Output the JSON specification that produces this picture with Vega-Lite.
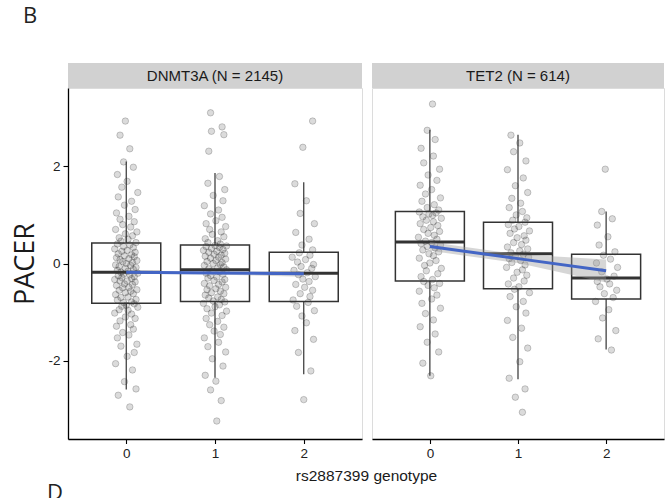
{
  "$schema": "https://vega.github.io/schema/vega-lite/v6.json",
  "background": "white",
  "padding": {"left": 11, "top": 5, "right": 5, "bottom": 0},
  "title": {"text": "B", "anchor": "start", "frame": "group", "font": "Open Sans", "fontSize": 22, "fontWeight": "normal", "color": "#222222", "baseline": "alphabetic", "dx": -45, "offset": 18},
  "columns": 2,
  "spacing": {"row": 0, "column": 10},
  "bounds": "flush",
  "datasets": {
    "dnmt3a": [
      {"x":0.04,"y":-2.95},{"x":-0.09,"y":-2.71},{"x":0.11,"y":-2.58},{"x":-0.02,"y":-2.43},{"x":0.07,"y":-2.19},{"x":-0.12,"y":-2.06},{"x":0.01,"y":-1.91},{"x":0.09,"y":-1.83},{"x":-0.06,"y":-1.70},{"x":0.12,"y":-1.66},
      {"x":-0.10,"y":-1.53},{"x":0.03,"y":-1.47},{"x":-0.04,"y":-1.42},{"x":0.08,"y":-1.35},{"x":-0.11,"y":-1.29},{"x":0.05,"y":-1.26},{"x":-0.07,"y":-1.18},{"x":0.10,"y":-1.13},{"x":-0.01,"y":-1.10},{"x":0.06,"y":-1.04},
      {"x":-0.13,"y":-1.02},{"x":0.02,"y":-0.96},{"x":-0.08,"y":-0.95},{"x":0.13,"y":-0.90},{"x":-0.05,"y":-0.88},{"x":0.00,"y":-0.86},{"x":0.09,"y":-0.83},{"x":-0.03,"y":-0.80},{"x":0.06,"y":-0.79},{"x":-0.10,"y":-0.75},
      {"x":0.11,"y":-0.74},{"x":-0.06,"y":-0.70},{"x":0.02,"y":-0.69},{"x":-0.12,"y":-0.64},{"x":0.08,"y":-0.62},{"x":-0.01,"y":-0.60},{"x":0.05,"y":-0.57},{"x":-0.08,"y":-0.55},{"x":0.12,"y":-0.54},{"x":-0.04,"y":-0.50},
      {"x":0.03,"y":-0.49},{"x":-0.11,"y":-0.45},{"x":0.07,"y":-0.43},{"x":-0.02,"y":-0.42},{"x":0.10,"y":-0.38},{"x":-0.07,"y":-0.36},{"x":0.01,"y":-0.36},{"x":-0.13,"y":-0.33},{"x":0.06,"y":-0.31},{"x":-0.05,"y":-0.29},
      {"x":0.09,"y":-0.27},{"x":-0.09,"y":-0.25},{"x":0.04,"y":-0.23},{"x":-0.03,"y":-0.22},{"x":0.13,"y":-0.20},{"x":-0.06,"y":-0.18},{"x":0.02,"y":-0.16},{"x":-0.10,"y":-0.14},{"x":0.08,"y":-0.12},{"x":-0.01,"y":-0.10},
      {"x":0.11,"y":-0.08},{"x":-0.08,"y":-0.06},{"x":0.05,"y":-0.04},{"x":-0.12,"y":-0.03},{"x":0.00,"y":0.00},{"x":0.07,"y":0.02},{"x":-0.04,"y":0.04},{"x":0.12,"y":0.06},{"x":-0.07,"y":0.08},{"x":0.03,"y":0.10},
      {"x":-0.11,"y":0.12},{"x":0.09,"y":0.14},{"x":-0.02,"y":0.16},{"x":0.06,"y":0.18},{"x":-0.09,"y":0.20},{"x":0.10,"y":0.23},{"x":-0.05,"y":0.25},{"x":0.01,"y":0.27},{"x":-0.13,"y":0.30},{"x":0.08,"y":0.33},
      {"x":-0.03,"y":0.35},{"x":0.04,"y":0.38},{"x":-0.10,"y":0.40},{"x":0.11,"y":0.43},{"x":-0.06,"y":0.46},{"x":0.02,"y":0.50},{"x":-0.08,"y":0.53},{"x":0.07,"y":0.57},{"x":-0.01,"y":0.61},{"x":0.12,"y":0.65},
      {"x":-0.12,"y":0.70},{"x":0.05,"y":0.75},{"x":-0.04,"y":0.80},{"x":0.09,"y":0.86},{"x":-0.07,"y":0.91},{"x":0.03,"y":0.97},{"x":-0.11,"y":1.04},{"x":0.10,"y":1.11},{"x":-0.02,"y":1.20},{"x":0.06,"y":1.28},
      {"x":-0.09,"y":1.37},{"x":0.13,"y":1.46},{"x":-0.05,"y":1.57},{"x":0.01,"y":1.69},{"x":-0.10,"y":1.83},{"x":0.08,"y":1.98},{"x":-0.03,"y":2.09},{"x":0.04,"y":2.36},{"x":-0.07,"y":2.64},{"x":-0.01,"y":2.93},
      {"x":1.02,"y":-3.24},{"x":1.07,"y":-2.82},{"x":0.95,"y":-2.60},{"x":1.01,"y":-2.42},{"x":0.89,"y":-2.30},{"x":1.09,"y":-2.11},{"x":0.97,"y":-1.96},{"x":1.12,"y":-1.82},{"x":0.92,"y":-1.71},{"x":1.04,"y":-1.62},
      {"x":0.88,"y":-1.53},{"x":1.06,"y":-1.46},{"x":0.99,"y":-1.39},{"x":1.10,"y":-1.31},{"x":0.94,"y":-1.26},{"x":1.03,"y":-1.19},{"x":0.90,"y":-1.13},{"x":1.08,"y":-1.07},{"x":0.96,"y":-1.02},{"x":1.13,"y":-0.98},
      {"x":0.91,"y":-0.93},{"x":1.00,"y":-0.89},{"x":1.05,"y":-0.85},{"x":0.87,"y":-0.82},{"x":1.11,"y":-0.79},{"x":0.98,"y":-0.77},{"x":1.07,"y":-0.74},{"x":0.93,"y":-0.71},{"x":1.03,"y":-0.69},{"x":0.89,"y":-0.65},
      {"x":1.10,"y":-0.62},{"x":0.96,"y":-0.60},{"x":1.06,"y":-0.57},{"x":0.91,"y":-0.54},{"x":1.01,"y":-0.52},{"x":1.12,"y":-0.49},{"x":0.94,"y":-0.46},{"x":1.04,"y":-0.43},{"x":0.88,"y":-0.41},{"x":1.08,"y":-0.38},
      {"x":0.99,"y":-0.35},{"x":1.11,"y":-0.33},{"x":0.92,"y":-0.30},{"x":1.02,"y":-0.28},{"x":0.95,"y":-0.25},{"x":1.09,"y":-0.22},{"x":0.90,"y":-0.20},{"x":1.05,"y":-0.17},{"x":0.97,"y":-0.15},{"x":1.13,"y":-0.13},
      {"x":0.93,"y":-0.11},{"x":1.03,"y":-0.09},{"x":1.10,"y":-0.07},{"x":0.88,"y":-0.04},{"x":1.06,"y":-0.02},{"x":0.98,"y":0.00},{"x":1.08,"y":0.02},{"x":0.91,"y":0.04},{"x":1.01,"y":0.06},{"x":1.12,"y":0.09},
      {"x":0.95,"y":0.11},{"x":1.04,"y":0.13},{"x":0.89,"y":0.15},{"x":1.07,"y":0.17},{"x":0.99,"y":0.19},{"x":1.11,"y":0.21},{"x":0.93,"y":0.23},{"x":1.02,"y":0.25},{"x":0.87,"y":0.27},{"x":1.09,"y":0.29},
      {"x":0.96,"y":0.31},{"x":1.05,"y":0.33},{"x":0.90,"y":0.35},{"x":1.13,"y":0.36},{"x":1.00,"y":0.37},{"x":1.06,"y":0.40},{"x":0.92,"y":0.43},{"x":1.03,"y":0.47},{"x":0.89,"y":0.51},{"x":1.10,"y":0.55},
      {"x":0.97,"y":0.60},{"x":1.07,"y":0.65},{"x":0.94,"y":0.70},{"x":1.12,"y":0.76},{"x":0.90,"y":0.82},{"x":1.01,"y":0.88},{"x":1.08,"y":0.95},{"x":0.95,"y":1.02},{"x":1.04,"y":1.10},{"x":0.88,"y":1.19},
      {"x":1.09,"y":1.29},{"x":0.98,"y":1.40},{"x":1.11,"y":1.52},{"x":0.92,"y":1.65},{"x":1.05,"y":1.79},{"x":0.93,"y":2.31},{"x":1.10,"y":2.65},{"x":0.96,"y":2.72},{"x":1.08,"y":2.81},{"x":0.95,"y":3.10},
      {"x":2.00,"y":-2.80},{"x":2.08,"y":-2.21},{"x":1.94,"y":-1.83},{"x":2.11,"y":-1.56},{"x":1.90,"y":-1.38},{"x":2.03,"y":-1.22},{"x":1.98,"y":-1.08},{"x":2.12,"y":-0.97},{"x":1.92,"y":-0.88},{"x":2.05,"y":-0.80},
      {"x":1.88,"y":-0.75},{"x":2.07,"y":-0.68},{"x":1.96,"y":-0.62},{"x":2.10,"y":-0.55},{"x":2.01,"y":-0.49},{"x":1.91,"y":-0.43},{"x":2.06,"y":-0.37},{"x":1.99,"y":-0.32},{"x":2.13,"y":-0.27},{"x":1.94,"y":-0.23},
      {"x":2.04,"y":-0.19},{"x":1.89,"y":-0.14},{"x":2.09,"y":-0.10},{"x":1.97,"y":-0.06},{"x":2.11,"y":-0.02},{"x":1.93,"y":0.03},{"x":2.02,"y":0.08},{"x":1.87,"y":0.13},{"x":2.07,"y":0.17},{"x":1.95,"y":0.22},
      {"x":2.10,"y":0.28},{"x":1.98,"y":0.38},{"x":2.06,"y":0.50},{"x":1.91,"y":0.64},{"x":2.12,"y":0.82},{"x":1.96,"y":1.03},{"x":2.03,"y":1.29},{"x":1.90,"y":1.64},{"x":1.99,"y":2.39},{"x":2.10,"y":2.93}
    ],
    "tet2": [
      {"x":0.01,"y":-2.31},{"x":-0.08,"y":-2.05},{"x":0.10,"y":-1.82},{"x":-0.03,"y":-1.62},{"x":0.06,"y":-1.45},{"x":-0.11,"y":-1.30},{"x":0.04,"y":-1.16},{"x":-0.05,"y":-1.03},{"x":0.12,"y":-0.92},{"x":-0.09,"y":-0.82},
      {"x":0.02,"y":-0.73},{"x":0.08,"y":-0.65},{"x":-0.12,"y":-0.57},{"x":0.05,"y":-0.50},{"x":-0.02,"y":-0.45},{"x":0.11,"y":-0.41},{"x":-0.07,"y":-0.37},{"x":0.03,"y":-0.33},{"x":-0.10,"y":-0.27},{"x":0.09,"y":-0.21},
      {"x":-0.04,"y":-0.15},{"x":0.13,"y":-0.10},{"x":-0.06,"y":-0.04},{"x":0.00,"y":0.01},{"x":0.07,"y":0.06},{"x":-0.12,"y":0.11},{"x":0.04,"y":0.16},{"x":-0.01,"y":0.20},{"x":0.10,"y":0.24},{"x":-0.08,"y":0.28},
      {"x":0.06,"y":0.32},{"x":-0.03,"y":0.35},{"x":0.12,"y":0.38},{"x":-0.10,"y":0.41},{"x":0.02,"y":0.43},{"x":-0.05,"y":0.46},{"x":0.08,"y":0.50},{"x":-0.13,"y":0.54},{"x":0.05,"y":0.58},{"x":-0.02,"y":0.62},
      {"x":0.11,"y":0.66},{"x":-0.07,"y":0.70},{"x":0.01,"y":0.74},{"x":0.09,"y":0.78},{"x":-0.11,"y":0.82},{"x":0.04,"y":0.86},{"x":-0.04,"y":0.89},{"x":0.13,"y":0.93},{"x":-0.08,"y":0.96},{"x":0.03,"y":0.99},
      {"x":-0.01,"y":1.02},{"x":0.07,"y":1.04},{"x":-0.12,"y":1.06},{"x":0.10,"y":1.10},{"x":-0.03,"y":1.15},{"x":0.05,"y":1.21},{"x":-0.09,"y":1.28},{"x":0.12,"y":1.35},{"x":-0.05,"y":1.43},{"x":0.02,"y":1.52},
      {"x":-0.11,"y":1.61},{"x":0.08,"y":1.71},{"x":-0.02,"y":1.82},{"x":0.11,"y":1.94},{"x":-0.07,"y":2.07},{"x":0.04,"y":2.21},{"x":-0.10,"y":2.37},{"x":0.06,"y":2.55},{"x":-0.03,"y":2.74},{"x":0.03,"y":3.28},
      {"x":1.05,"y":-3.06},{"x":0.97,"y":-2.75},{"x":1.08,"y":-2.58},{"x":0.90,"y":-2.36},{"x":1.02,"y":-2.02},{"x":1.11,"y":-1.74},{"x":0.94,"y":-1.52},{"x":1.04,"y":-1.33},{"x":0.88,"y":-1.17},{"x":1.09,"y":-1.02},
      {"x":0.98,"y":-0.89},{"x":1.06,"y":-0.78},{"x":0.91,"y":-0.68},{"x":1.13,"y":-0.60},{"x":0.96,"y":-0.53},{"x":1.01,"y":-0.48},{"x":0.89,"y":-0.42},{"x":1.07,"y":-0.36},{"x":0.95,"y":-0.30},{"x":1.10,"y":-0.24},
      {"x":0.99,"y":-0.18},{"x":1.05,"y":-0.13},{"x":0.87,"y":-0.08},{"x":1.08,"y":-0.03},{"x":0.93,"y":0.02},{"x":1.03,"y":0.06},{"x":0.90,"y":0.10},{"x":1.12,"y":0.13},{"x":0.97,"y":0.16},{"x":1.06,"y":0.19},
      {"x":0.92,"y":0.22},{"x":1.02,"y":0.26},{"x":1.11,"y":0.30},{"x":0.88,"y":0.34},{"x":1.04,"y":0.39},{"x":0.95,"y":0.43},{"x":1.09,"y":0.48},{"x":0.99,"y":0.53},{"x":1.07,"y":0.57},{"x":0.91,"y":0.62},
      {"x":1.13,"y":0.67},{"x":0.96,"y":0.71},{"x":1.01,"y":0.76},{"x":0.89,"y":0.80},{"x":1.08,"y":0.85},{"x":0.94,"y":0.89},{"x":1.10,"y":0.94},{"x":0.98,"y":1.00},{"x":1.05,"y":1.07},{"x":0.90,"y":1.15},
      {"x":1.03,"y":1.24},{"x":0.93,"y":1.34},{"x":1.11,"y":1.46},{"x":0.97,"y":1.60},{"x":1.06,"y":1.76},{"x":0.88,"y":1.93},{"x":1.09,"y":2.11},{"x":0.95,"y":2.30},{"x":1.02,"y":2.48},{"x":0.92,"y":2.64},
      {"x":2.06,"y":-1.78},{"x":1.91,"y":-1.55},{"x":2.11,"y":-1.38},{"x":1.96,"y":-1.12},{"x":2.03,"y":-0.95},{"x":1.88,"y":-0.78},{"x":2.08,"y":-0.70},{"x":1.98,"y":-0.62},{"x":2.12,"y":-0.55},{"x":1.93,"y":-0.48},
      {"x":2.04,"y":-0.42},{"x":1.90,"y":-0.37},{"x":2.01,"y":-0.32},{"x":2.09,"y":-0.26},{"x":1.95,"y":-0.17},{"x":2.13,"y":-0.08},{"x":1.89,"y":0.01},{"x":2.05,"y":0.09},{"x":1.97,"y":0.17},{"x":2.10,"y":0.24},
      {"x":1.92,"y":0.38},{"x":2.02,"y":0.55},{"x":1.90,"y":0.79},{"x":2.07,"y":0.92},{"x":1.95,"y":1.07},{"x":1.99,"y":1.94}
    ],
    "boxD": [
      {"g":0,"lo":-2.59,"q1":-0.82,"med":-0.18,"q3":0.42,"hi":2.10},
      {"g":1,"lo":-2.35,"q1":-0.78,"med":-0.13,"q3":0.38,"hi":1.86},
      {"g":2,"lo":-2.28,"q1":-0.78,"med":-0.20,"q3":0.23,"hi":1.67}
    ],
    "boxT": [
      {"g":0,"lo":-2.31,"q1":-0.36,"med":0.44,"q3":1.07,"hi":2.75},
      {"g":1,"lo":-2.38,"q1":-0.52,"med":0.20,"q3":0.85,"hi":2.65},
      {"g":2,"lo":-1.77,"q1":-0.73,"med":-0.30,"q3":0.19,"hi":1.07}
    ],
    "fitD": [
      {"g":0,"fit":-0.18,"lo":-0.21,"hi":-0.15},
      {"g":1,"fit":-0.195,"lo":-0.225,"hi":-0.165},
      {"g":2,"fit":-0.21,"lo":-0.27,"hi":-0.15}
    ],
    "fitT": [
      {"g":0,"fit":0.35,"lo":0.26,"hi":0.44},
      {"g":1,"fit":0.10,"lo":0.01,"hi":0.19},
      {"g":2,"fit":-0.15,"lo":-0.39,"hi":0.08}
    ]
  },
  "concat": [
    {
      "width": 294, "height": 25, "view": {"stroke": null},
      "data": {"values": [{"label": "DNMT3A (N = 2145)"}]},
      "layer": [
        {"mark": {"type": "rect", "fill": "#d1d1d1"}, "encoding": {}},
        {"mark": {"type": "text", "font": "Liberation Sans", "fontSize": 15, "color": "#1a1a1a"}, "encoding": {"text": {"field": "label", "type": "nominal"}}}
      ]
    },
    {
      "width": 292, "height": 25, "view": {"stroke": null},
      "data": {"values": [{"label": "TET2 (N = 614)"}]},
      "layer": [
        {"mark": {"type": "rect", "fill": "#d1d1d1"}, "encoding": {}},
        {"mark": {"type": "text", "font": "Liberation Sans", "fontSize": 15, "color": "#1a1a1a"}, "encoding": {"text": {"field": "label", "type": "nominal"}}}
      ]
    },
    {
      "width": 294, "height": 351, "view": {"stroke": "#dcdcdc"},
      "title": {"text": "D", "orient": "bottom", "anchor": "start", "frame": "group", "font": "Open Sans", "fontSize": 22, "fontWeight": "normal", "color": "#222222", "baseline": "top", "dx": -21, "offset": -1},
      "layer": [
        {
          "data": {"name": "dnmt3a"},
          "mark": {"type": "point", "shape": "circle", "filled": true, "size": 42, "fill": "#222222", "fillOpacity": 0.16, "stroke": "#222222", "strokeOpacity": 0.28, "strokeWidth": 0.8},
          "encoding": {
            "x": {"field": "x", "type": "quantitative", "scale": {"domain": [-0.6, 2.6], "nice": false, "zero": false},
                  "axis": {"values": [0, 1, 2], "labelExpr": "datum.value + ''", "title": "rs2887399 genotype", "titleX": 298, "titleY": 41, "titleAlign": "center", "titleBaseline": "alphabetic", "titleFont": "Liberation Sans", "titleFontSize": 15.5, "titleFontWeight": "normal", "titleColor": "#1a1a1a"}},
            "y": {"field": "y", "type": "quantitative", "scale": {"domain": [-3.61, 3.61], "nice": false, "zero": false},
                  "axis": {"values": [-2, 0, 2], "labelExpr": "datum.value + ''", "title": "PACER", "titleFont": "Open Sans", "titleFontSize": 27, "titleFontWeight": "normal", "titleColor": "#1a1a1a", "titlePadding": 8, "tickSize": 5}}
          }
        },
        {
          "data": {"name": "boxD"},
          "mark": {"type": "rule", "color": "#333333", "strokeWidth": 1.2},
          "encoding": {"x": {"field": "g", "type": "quantitative"}, "y": {"field": "lo", "type": "quantitative"}, "y2": {"field": "q1"}}
        },
        {
          "data": {"name": "boxD"},
          "mark": {"type": "rule", "color": "#333333", "strokeWidth": 1.2},
          "encoding": {"x": {"field": "g", "type": "quantitative"}, "y": {"field": "q3", "type": "quantitative"}, "y2": {"field": "hi"}}
        },
        {
          "data": {"name": "boxD"},
          "mark": {"type": "bar", "size": 69, "fill": "white", "fillOpacity": 0, "stroke": "#333333", "strokeWidth": 1.5},
          "encoding": {"x": {"field": "g", "type": "quantitative"}, "y": {"field": "q1", "type": "quantitative"}, "y2": {"field": "q3"}}
        },
        {
          "data": {"name": "boxD"},
          "mark": {"type": "tick", "orient": "horizontal", "size": 69, "thickness": 3, "color": "#333333", "opacity": 1},
          "encoding": {"x": {"field": "g", "type": "quantitative"}, "y": {"field": "med", "type": "quantitative"}}
        },
        {
          "data": {"name": "fitD"},
          "mark": {"type": "area", "color": "#999999", "opacity": 0.4},
          "encoding": {"x": {"field": "g", "type": "quantitative"}, "y": {"field": "lo", "type": "quantitative"}, "y2": {"field": "hi"}}
        },
        {
          "data": {"name": "fitD"},
          "mark": {"type": "line", "color": "#4365c5", "strokeWidth": 3},
          "encoding": {"x": {"field": "g", "type": "quantitative"}, "y": {"field": "fit", "type": "quantitative"}}
        }
      ]
    },
    {
      "width": 292, "height": 351, "view": {"stroke": "#dcdcdc"},
      "layer": [
        {
          "data": {"name": "tet2"},
          "mark": {"type": "point", "shape": "circle", "filled": true, "size": 42, "fill": "#222222", "fillOpacity": 0.16, "stroke": "#222222", "strokeOpacity": 0.28, "strokeWidth": 0.8},
          "encoding": {
            "x": {"field": "x", "type": "quantitative", "scale": {"domain": [-0.6, 2.6], "nice": false, "zero": false},
                  "axis": {"values": [0, 1, 2], "labelExpr": "datum.value + ''", "title": null}},
            "y": {"field": "y", "type": "quantitative", "scale": {"domain": [-3.61, 3.61], "nice": false, "zero": false}, "axis": null}
          }
        },
        {
          "data": {"name": "boxT"},
          "mark": {"type": "rule", "color": "#333333", "strokeWidth": 1.2},
          "encoding": {"x": {"field": "g", "type": "quantitative"}, "y": {"field": "lo", "type": "quantitative"}, "y2": {"field": "q1"}}
        },
        {
          "data": {"name": "boxT"},
          "mark": {"type": "rule", "color": "#333333", "strokeWidth": 1.2},
          "encoding": {"x": {"field": "g", "type": "quantitative"}, "y": {"field": "q3", "type": "quantitative"}, "y2": {"field": "hi"}}
        },
        {
          "data": {"name": "boxT"},
          "mark": {"type": "bar", "size": 69, "fill": "white", "fillOpacity": 0, "stroke": "#333333", "strokeWidth": 1.5},
          "encoding": {"x": {"field": "g", "type": "quantitative"}, "y": {"field": "q1", "type": "quantitative"}, "y2": {"field": "q3"}}
        },
        {
          "data": {"name": "boxT"},
          "mark": {"type": "tick", "orient": "horizontal", "size": 69, "thickness": 3, "color": "#333333", "opacity": 1},
          "encoding": {"x": {"field": "g", "type": "quantitative"}, "y": {"field": "med", "type": "quantitative"}}
        },
        {
          "data": {"name": "fitT"},
          "mark": {"type": "area", "color": "#999999", "opacity": 0.4},
          "encoding": {"x": {"field": "g", "type": "quantitative"}, "y": {"field": "lo", "type": "quantitative"}, "y2": {"field": "hi"}}
        },
        {
          "data": {"name": "fitT"},
          "mark": {"type": "line", "color": "#4365c5", "strokeWidth": 3},
          "encoding": {"x": {"field": "g", "type": "quantitative"}, "y": {"field": "fit", "type": "quantitative"}}
        }
      ]
    }
  ],
  "config": {
    "view": {"stroke": "#dcdcdc"},
    "axis": {
      "grid": false,
      "domainColor": "#000000",
      "domainWidth": 1.3,
      "tickColor": "#000000",
      "tickWidth": 1.1,
      "tickSize": 4.5,
      "labelColor": "#222222",
      "labelFont": "Liberation Sans",
      "labelFontSize": 13.5,
      "labelPadding": 3
    }
  }
}
